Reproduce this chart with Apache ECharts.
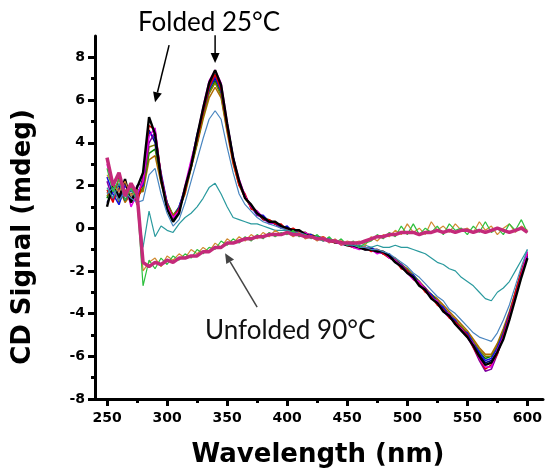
<!DOCTYPE html>
<html>
<head>
<meta charset="utf-8">
<script src="https://cdn.jsdelivr.net/npm/echarts@6/dist/echarts.min.js"></script>
<style>html,body{margin:0;padding:0;background:#fff;}#c{width:548px;height:474px;}</style>
</head>
<body>
<div id="c"></div>
<script>
const wavelengths = [250,255,260,265,270,275,280,285,290,295,300,305,310,315,320,325,330,335,340,345,350,355,360,365,370,375,380,385,390,395,400,405,410,415,420,425,430,435,440,445,450,455,460,465,470,475,480,485,490,495,500,505,510,515,520,525,530,535,540,545,550,555,560,565,570,575,580,585,590,595,600];

const xMajorTicks = [250,300,350,400,450,500,550,600];
const xMinorTicks = [275,325,375,425,475,525,575];
const yMajorTicks = [-8,-6,-4,-2,0,2,4,6,8];
const yMinorTicks = [-7,-5,-3,-1,1,3,5,7];

const s25 = [1.0,2.1,1.4,2.3,1.2,1.9,2.6,5.2,4.4,2.3,0.9,0.3,0.7,1.9,2.9,4.3,5.6,6.8,7.4,6.7,4.9,3.3,2.2,1.4,1.1,0.7,0.5,0.3,0.3,0.1,0.0,-0.1,-0.1,-0.3,-0.4,-0.4,-0.5,-0.6,-0.6,-0.7,-0.8,-0.8,-0.9,-1.0,-1.0,-1.1,-1.1,-1.3,-1.6,-1.8,-2.1,-2.3,-2.7,-2.9,-3.3,-3.5,-3.9,-4.1,-4.5,-4.8,-5.1,-5.5,-6.0,-6.4,-6.3,-5.8,-5.2,-4.3,-3.3,-2.3,-1.4];
const s30 = [1.8,1.2,2.4,1.6,2.0,1.1,2.3,4.8,4.6,2.5,1.1,0.5,0.9,1.7,3.1,4.1,5.4,6.6,7.2,6.5,4.7,3.1,2.0,1.6,0.9,0.8,0.4,0.4,0.2,0.2,-0.1,0.0,-0.2,-0.2,-0.4,-0.5,-0.4,-0.6,-0.7,-0.6,-0.8,-0.9,-0.9,-0.9,-1.1,-1.0,-1.2,-1.4,-1.5,-1.9,-2.0,-2.4,-2.6,-3.0,-3.2,-3.6,-3.8,-4.2,-4.4,-4.7,-5.0,-5.6,-6.1,-6.6,-6.4,-5.9,-5.0,-4.1,-3.0,-2.0,-1.2];
const s35 = [2.4,1.6,1.1,2.0,1.5,1.7,2.0,4.5,4.2,2.6,1.2,0.4,1.0,1.9,3.0,4.4,5.4,6.5,7.1,6.4,4.9,3.4,2.1,1.5,1.0,0.6,0.6,0.3,0.2,0.0,0.1,-0.2,-0.2,-0.3,-0.3,-0.5,-0.5,-0.5,-0.7,-0.7,-0.7,-0.9,-0.8,-1.0,-0.9,-1.1,-1.2,-1.2,-1.6,-1.7,-2.1,-2.2,-2.6,-2.9,-3.1,-3.5,-3.7,-4.1,-4.3,-4.8,-4.9,-5.4,-5.8,-6.2,-6.1,-5.6,-4.9,-4.0,-3.1,-2.1,-1.3];
const s40 = [3.0,1.9,1.5,2.2,1.0,1.6,2.2,4.3,4.7,2.4,1.0,0.5,0.8,2.0,3.2,4.3,5.7,6.9,7.4,6.8,5.0,3.3,2.3,1.5,1.0,0.8,0.5,0.2,0.3,0.1,0.0,-0.1,-0.3,-0.2,-0.4,-0.4,-0.6,-0.5,-0.6,-0.8,-0.7,-0.9,-1.0,-0.9,-1.0,-1.2,-1.1,-1.4,-1.5,-1.8,-2.1,-2.4,-2.5,-2.9,-3.3,-3.4,-3.9,-4.0,-4.5,-4.7,-5.1,-5.4,-6.1,-6.5,-6.5,-5.7,-5.1,-4.2,-3.2,-2.2,-1.1];
const s45 = [1.5,2.0,1.2,1.8,1.4,1.5,1.8,3.8,3.9,2.2,1.2,0.6,0.9,1.7,2.8,4.0,5.2,6.3,6.8,6.2,4.6,3.2,2.1,1.4,1.0,0.7,0.5,0.4,0.2,0.1,0.0,-0.1,-0.2,-0.3,-0.3,-0.4,-0.5,-0.6,-0.6,-0.7,-0.8,-0.8,-0.9,-0.9,-1.0,-1.1,-1.1,-1.3,-1.5,-1.8,-1.9,-2.3,-2.5,-2.8,-3.2,-3.4,-3.7,-4.0,-4.3,-4.6,-4.9,-5.3,-5.7,-6.0,-6.0,-5.5,-4.8,-4.0,-3.0,-2.0,-1.2];
const s50 = [1.2,1.7,2.0,1.3,1.8,1.3,2.4,4.6,4.0,2.4,1.0,0.4,0.8,1.8,3.0,4.2,5.5,6.6,7.0,6.5,4.8,3.2,2.2,1.5,1.0,0.7,0.4,0.3,0.2,0.1,0.0,-0.1,-0.2,-0.3,-0.4,-0.4,-0.5,-0.5,-0.7,-0.7,-0.8,-0.8,-0.9,-1.0,-1.0,-1.0,-1.2,-1.3,-1.5,-1.8,-2.0,-2.3,-2.6,-2.9,-3.2,-3.5,-3.8,-4.1,-4.4,-4.7,-5.0,-5.5,-5.9,-6.3,-6.2,-5.8,-5.0,-4.2,-3.2,-2.1,-1.3];
const s55 = [2.2,1.3,1.8,1.7,1.2,2.0,2.1,4.0,4.5,2.3,1.1,0.4,0.9,1.8,2.9,4.3,5.5,6.7,7.2,6.6,4.8,3.3,2.1,1.4,1.1,0.6,0.5,0.3,0.2,0.0,0.0,-0.2,-0.1,-0.3,-0.4,-0.5,-0.5,-0.6,-0.6,-0.7,-0.8,-0.9,-0.9,-1.0,-1.0,-1.1,-1.2,-1.3,-1.6,-1.7,-2.0,-2.3,-2.6,-2.8,-3.2,-3.5,-3.9,-4.2,-4.4,-4.8,-5.1,-5.6,-6.2,-6.7,-6.6,-5.9,-5.1,-4.1,-3.1,-2.2,-1.2];
const s60 = [1.4,2.2,1.5,1.6,2.0,1.4,1.9,3.5,3.7,2.4,1.2,0.6,1.0,1.8,2.9,4.0,5.3,6.4,6.9,6.3,4.7,3.2,2.1,1.5,1.0,0.7,0.5,0.3,0.2,0.1,-0.1,-0.1,-0.2,-0.2,-0.4,-0.4,-0.5,-0.6,-0.6,-0.7,-0.7,-0.8,-0.9,-0.9,-1.0,-1.1,-1.1,-1.3,-1.5,-1.7,-2.0,-2.2,-2.5,-2.9,-3.1,-3.4,-3.8,-4.0,-4.4,-4.6,-5.0,-5.4,-5.8,-6.1,-6.0,-5.6,-4.9,-4.1,-3.1,-2.1,-1.3];
const s65 = [1.7,1.4,1.9,1.2,1.6,1.8,1.7,3.2,3.4,2.1,1.1,0.6,0.9,1.6,2.8,3.9,5.1,6.1,6.6,6.1,4.5,3.0,2.0,1.4,1.0,0.7,0.5,0.3,0.2,0.1,0.0,-0.1,-0.2,-0.3,-0.3,-0.4,-0.5,-0.5,-0.6,-0.7,-0.7,-0.8,-0.9,-0.9,-1.0,-1.0,-1.1,-1.3,-1.4,-1.7,-1.9,-2.2,-2.5,-2.8,-3.1,-3.3,-3.6,-3.9,-4.2,-4.5,-4.8,-5.2,-5.6,-5.9,-5.9,-5.4,-4.7,-3.9,-3.0,-2.0,-1.1];
const s70 = [1.6,1.9,1.3,1.7,1.4,1.2,1.3,2.5,2.8,1.6,0.7,0.1,0.4,1.2,2.2,3.2,4.2,5.1,5.5,5.1,3.8,2.6,1.6,1.1,0.8,0.5,0.3,0.2,0.1,0.0,-0.1,-0.2,-0.2,-0.3,-0.4,-0.4,-0.5,-0.6,-0.6,-0.7,-0.8,-0.8,-0.9,-0.9,-1.0,-1.0,-1.1,-1.2,-1.4,-1.6,-1.8,-2.1,-2.3,-2.6,-2.9,-3.2,-3.4,-3.8,-4.0,-4.3,-4.6,-4.9,-5.1,-5.2,-5.3,-4.9,-4.3,-3.6,-2.7,-1.8,-1.0];
const s75 = [1.9,1.4,2.1,1.5,1.8,1.3,-0.9,0.8,-0.4,0.1,-0.1,-0.2,0.2,0.5,0.7,1.0,1.4,1.9,2.1,1.6,1.0,0.5,0.4,0.3,0.2,0.2,0.1,0.0,-0.1,-0.1,-0.1,-0.2,-0.3,-0.4,-0.4,-0.5,-0.6,-0.5,-0.6,-0.7,-0.7,-0.8,-0.8,-0.8,-0.9,-0.8,-0.9,-0.9,-0.8,-0.9,-0.9,-1.0,-1.1,-1.2,-1.4,-1.6,-1.7,-1.9,-2.0,-2.3,-2.5,-2.7,-3.0,-3.3,-3.4,-3.0,-2.8,-2.5,-2.0,-1.5,-1.0];
const s80 = [2.5,2.0,1.7,2.2,1.5,1.8,-2.0,-1.6,-1.4,-1.8,-1.3,-1.5,-1.2,-1.4,-1.0,-1.2,-0.9,-1.1,-0.7,-0.9,-0.5,-0.7,-0.4,-0.6,-0.3,-0.5,-0.2,-0.4,-0.1,-0.3,-0.2,-0.4,-0.2,-0.5,-0.4,-0.6,-0.4,-0.7,-0.5,-0.8,-0.6,-0.7,-0.6,-0.8,-0.4,-0.6,-0.3,-0.4,-0.1,-0.3,0.2,-0.2,0.0,-0.3,0.3,-0.1,0.1,-0.2,0.2,-0.1,0.0,-0.2,0.3,-0.1,0.1,-0.3,0.0,0.2,-0.2,0.1,-0.1];
const s85 = [2.8,1.7,2.3,1.3,1.9,1.4,-2.7,-1.5,-1.9,-1.4,-1.7,-1.3,-1.5,-1.2,-1.4,-1.0,-1.2,-0.9,-1.0,-0.6,-0.8,-0.5,-0.7,-0.4,-0.6,-0.3,-0.5,-0.2,-0.4,-0.2,-0.3,-0.1,-0.4,-0.3,-0.5,-0.3,-0.6,-0.4,-0.7,-0.5,-0.8,-0.6,-0.9,-0.7,-0.6,-0.3,-0.5,-0.2,-0.4,0.1,-0.3,0.2,-0.3,0.0,-0.2,0.1,-0.3,0.2,-0.1,0.0,-0.3,0.1,-0.2,0.3,-0.2,0.0,-0.3,0.2,-0.1,0.4,-0.2];
const s90 = [3.3,2.0,2.6,1.5,2.1,1.6,-1.6,-1.8,-1.6,-1.7,-1.5,-1.6,-1.4,-1.4,-1.3,-1.3,-1.1,-1.1,-0.9,-0.9,-0.7,-0.7,-0.6,-0.5,-0.5,-0.4,-0.4,-0.3,-0.3,-0.3,-0.2,-0.3,-0.3,-0.4,-0.4,-0.5,-0.5,-0.6,-0.6,-0.7,-0.7,-0.7,-0.7,-0.6,-0.5,-0.4,-0.4,-0.3,-0.3,-0.2,-0.2,-0.2,-0.3,-0.2,-0.2,-0.1,-0.2,-0.1,-0.2,-0.1,-0.1,-0.2,-0.1,-0.2,-0.1,0.0,-0.1,-0.2,-0.1,0.0,-0.2];

const seriesDefs = [
  {name:'65', values:s65, color:'#B06A00', width:1.5},
  {name:'60', values:s60, color:'#008000', width:1.5},
  {name:'45', values:s45, color:'#808000', width:1.5},
  {name:'50', values:s50, color:'#000080', width:1.5},
  {name:'35', values:s35, color:'#1010E0', width:1.5},
  {name:'55', values:s55, color:'#8000A0', width:1.5},
  {name:'30', values:s30, color:'#E00000', width:1.5},
  {name:'40', values:s40, color:'#E000E0', width:1.5},
  {name:'25', values:s25, color:'#000000', width:2.4},
  {name:'70', values:s70, color:'#4A86C0', width:1.2},
  {name:'75', values:s75, color:'#2A9A9E', width:1.2},
  {name:'80', values:s80, color:'#D08A30', width:1.2},
  {name:'85', values:s85, color:'#2CC03C', width:1.2},
  {name:'90', values:s90, color:'#C42A7A', width:3.5}
];

const annotationTexts = [
  {text:'Folded 25°C', at:[335, 9.62], color:'#000'},
  {text:'Unfolded 90°C', at:[402.5, -4.78], color:'#111'}
];
const annotationArrows = [
  {from:[301.7, 8.57], to:[290, 5.9], color:'#000'},
  {from:[340, 9.04], to:[340, 7.73], color:'#000'},
  {from:[375, -3.7], to:[348.3, -1.17], color:'#444'}
];

const chart = echarts.init(document.getElementById('c'), null, {renderer:'canvas'});
const labelFont = {fontFamily:'DejaVu Sans', fontWeight:'bold', fontSize:14, color:'#000'};

const option = {
  animation:false,
  backgroundColor:'#fff',
  grid:{left:95, right:5, top:36, bottom:75, containLabel:false},
  xAxis:[
    {type:'value', min:240, max:613, position:'bottom',
     axisLine:{show:true, onZero:false, lineStyle:{color:'#000', width:3}},
     axisTick:{show:true, customValues:xMajorTicks, length:7, lineStyle:{color:'#000', width:3}},
     axisLabel:Object.assign({show:true, customValues:xMajorTicks, margin:12}, labelFont),
     splitLine:{show:false}},
    {type:'value', min:240, max:613, position:'bottom',
     axisLine:{show:false, onZero:false},
     axisTick:{show:true, customValues:xMinorTicks, length:4, lineStyle:{color:'#000', width:3}},
     axisLabel:{show:false},
     splitLine:{show:false}}
  ],
  yAxis:[
    {type:'value', min:-8, max:9, position:'left',
     axisLine:{show:true, onZero:false, lineStyle:{color:'#000', width:3}},
     axisTick:{show:true, customValues:yMajorTicks, length:7, lineStyle:{color:'#000', width:3}},
     axisLabel:Object.assign({show:true, customValues:yMajorTicks, margin:10}, labelFont),
     splitLine:{show:false}},
    {type:'value', min:-8, max:9, position:'left',
     axisLine:{show:false, onZero:false},
     axisTick:{show:true, customValues:yMinorTicks, length:4, lineStyle:{color:'#000', width:3}},
     axisLabel:{show:false},
     splitLine:{show:false}}
  ],
  series: seriesDefs.map(d => ({
    type:'line', name:d.name, xAxisIndex:0, yAxisIndex:0,
    data: wavelengths.map((w,i) => [w, d.values[i]]),
    showSymbol:false, symbol:'none',
    lineStyle:{color:d.color, width:d.width},
    itemStyle:{color:d.color},
    z:2
  }))
};
chart.setOption(option);

const graphics = [
  {type:'text', x:23, y:237, rotation:Math.PI/2,
   style:{text:'CD Signal (mdeg)', fontFamily:'DejaVu Sans', fontWeight:'bold', fontSize:26, fill:'#000', textAlign:'center', textVerticalAlign:'middle'}},
  {type:'text', x:318, y:455,
   style:{text:'Wavelength (nm)', fontFamily:'DejaVu Sans', fontWeight:'bold', fontSize:26, fill:'#000', textAlign:'center', textVerticalAlign:'middle'}}
];
annotationTexts.forEach(a => {
  const p = chart.convertToPixel({xAxisIndex:0, yAxisIndex:0}, a.at);
  graphics.push({type:'text', x:p[0], y:p[1], z:10,
    style:{text:a.text, fontFamily:'Lato', fontSize:26, fill:a.color, textAlign:'center', textVerticalAlign:'middle'}});
});
annotationArrows.forEach(a => {
  const p0 = chart.convertToPixel({xAxisIndex:0, yAxisIndex:0}, a.from);
  const p1 = chart.convertToPixel({xAxisIndex:0, yAxisIndex:0}, a.to);
  const dx = p1[0]-p0[0], dy = p1[1]-p0[1];
  const len = Math.sqrt(dx*dx+dy*dy);
  const ux = dx/len, uy = dy/len;
  const L = 10, W = 4.5;
  const bx = p1[0]-ux*L, by = p1[1]-uy*L;
  graphics.push({type:'line', z:10, shape:{x1:p0[0], y1:p0[1], x2:bx, y2:by},
    style:{stroke:a.color, lineWidth:1.5}});
  graphics.push({type:'polygon', z:10, shape:{points:[[p1[0],p1[1]],[bx-uy*W, by+ux*W],[bx+uy*W, by-ux*W]]},
    style:{fill:a.color}});
});
chart.setOption({graphic:graphics});
</script>
</body>
</html>
